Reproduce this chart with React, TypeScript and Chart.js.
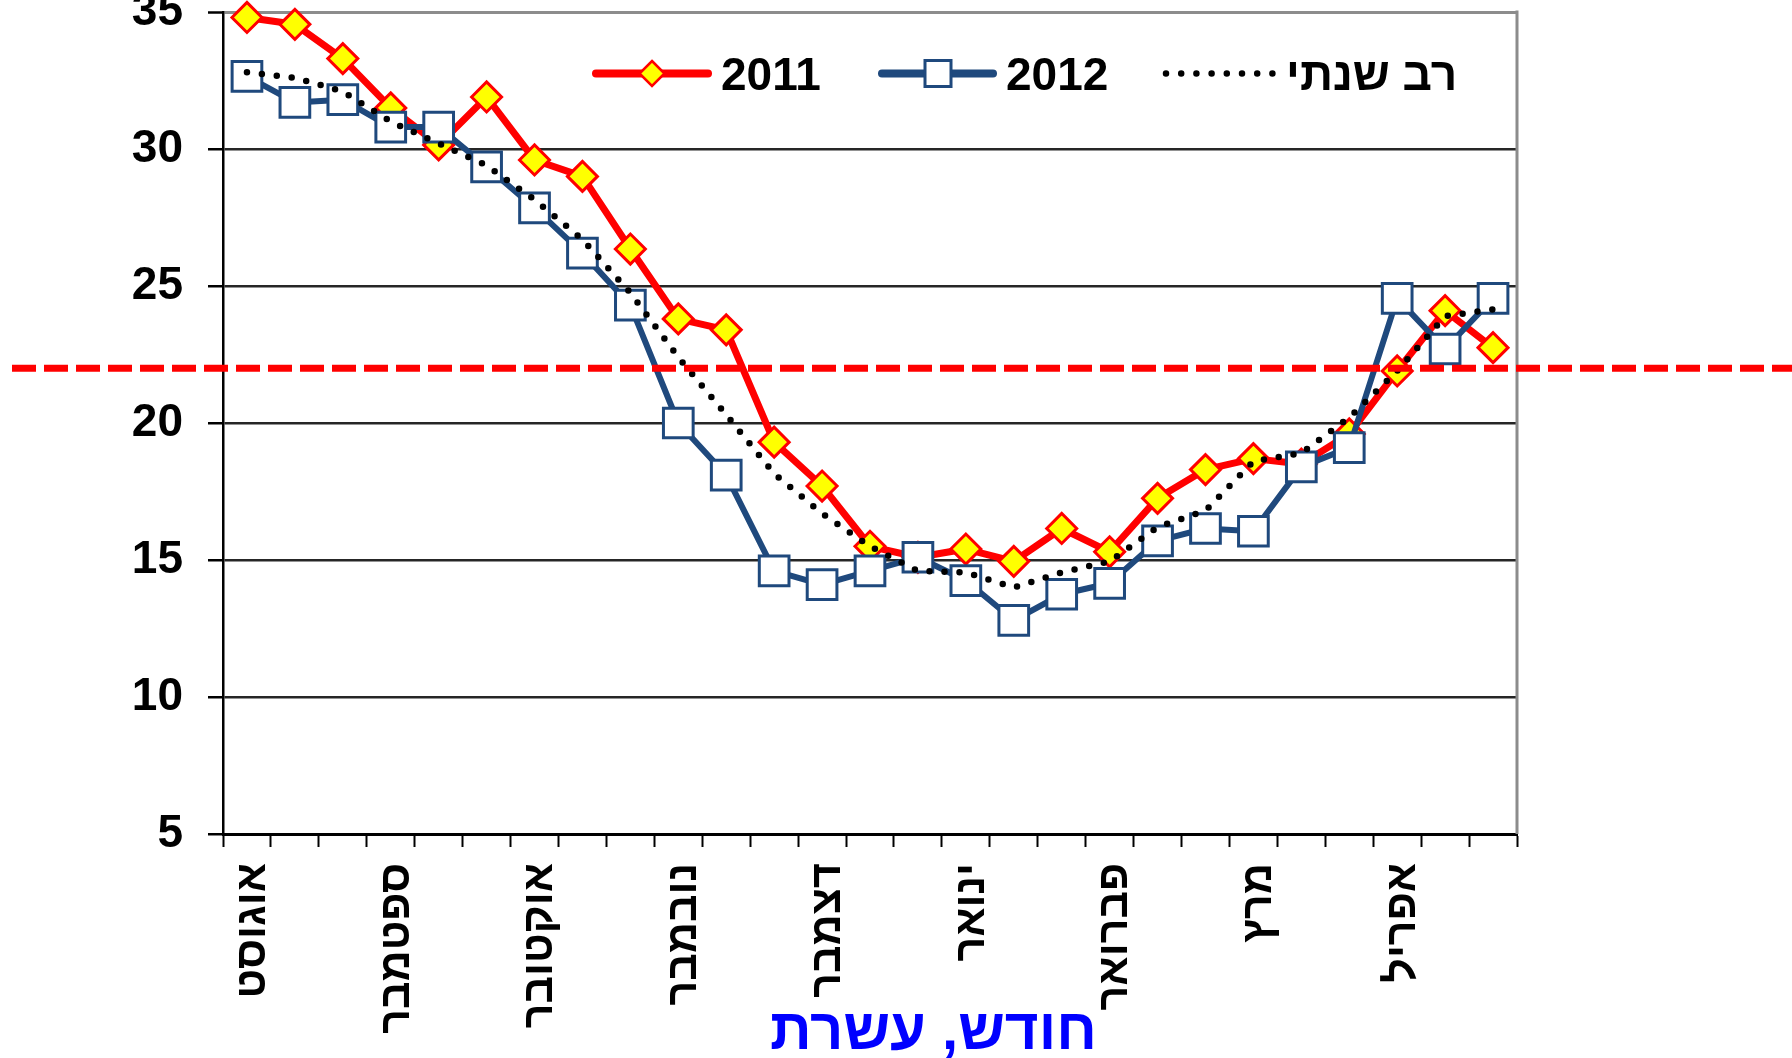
import React, { useEffect, useRef } from 'react';
import { Chart, registerables } from 'chart.js';

Chart.register(...registerables);

// ---------- data ----------
const MONTHS = ['אוגוסט', 'ספטמבר', 'אוקטובר', 'נובמבר', 'דצמבר', 'ינואר', 'פברואר', 'מרץ', 'אפריל'];
// three dekads (ten-day periods) per month; only the first one carries the month name
const CATEGORIES = MONTHS.flatMap((m) => [m, '', '']);

const SERIES_2011 = [
  34.8, 34.55, 33.3, 31.5, 30.15, 31.9, 29.6, 29.0, 26.35,
  23.8, 23.4, 19.3, 17.7, 15.5, 15.1, 15.4, 14.95, 16.15,
  15.3, 17.25, 18.3, 18.7, 18.5, 19.6, 21.9, 24.1, 22.75,
];
const SERIES_2012 = [
  32.65, 31.7, 31.8, 30.8, 30.8, 29.35, 27.85, 26.2, 24.3,
  20.0, 18.1, 14.6, 14.1, 14.6, 15.1, 14.25, 12.8, 13.75,
  14.15, 15.7, 16.15, 16.05, 18.4, 19.1, 24.55, 22.7, 24.55,
];
const LONG_TERM = [
  32.8, 32.6, 32.1, 31.0, 30.2, 29.4, 28.15, 26.7, 24.75,
  22.4, 20.3, 18.15, 16.7, 15.5, 14.6, 14.55, 14.0, 14.55,
  14.95, 16.2, 16.8, 18.6, 18.9, 20.2, 21.9, 23.9, 24.15,
];
const SERIES_NAMES = ['2011', '2012', 'רב שנתי'];

const Y_MIN = 5;
const Y_MAX = 35;
const Y_STEP = 5;
const THRESHOLD = 22;
const X_TITLE = 'חודש, עשרת';

// ---------- styles ----------
const FONT = "'Liberation Sans', Arial, sans-serif";
const RED = '#FF0000';
const YELLOW = '#FFFF00';
const BLUE = '#1F497D';
const TITLE_BLUE = '#0000FF';

function drawDiamond(ctx: CanvasRenderingContext2D, x: number, y: number, r: number, fill: string, stroke: string, lw: number) {
  ctx.beginPath();
  ctx.moveTo(x, y - r);
  ctx.lineTo(x + r, y);
  ctx.lineTo(x, y + r);
  ctx.lineTo(x - r, y);
  ctx.closePath();
  ctx.fillStyle = fill;
  ctx.fill();
  ctx.lineWidth = lw;
  ctx.strokeStyle = stroke;
  ctx.stroke();
}

function drawSquare(ctx: CanvasRenderingContext2D, x: number, y: number, h: number, fill: string, stroke: string, lw: number) {
  ctx.beginPath();
  ctx.rect(x - h, y - h, 2 * h, 2 * h);
  ctx.fillStyle = fill;
  ctx.fill();
  ctx.lineWidth = lw;
  ctx.strokeStyle = stroke;
  ctx.stroke();
}

const decorPlugin = {
  id: 'decor',
  beforeDatasetsDraw(chart: any) {
    const { ctx, chartArea } = chart;
    ctx.save();
    ctx.strokeStyle = '#8C8C8C';
    ctx.lineWidth = 3;
    ctx.beginPath();
    ctx.moveTo(chartArea.right, chartArea.top - 1.5);
    ctx.lineTo(chartArea.right, chartArea.bottom);
    ctx.stroke();
    ctx.restore();
  },
  afterDatasetsDraw(chart: any) {
    const { ctx, scales } = chart;
    const y = scales.y.getPixelForValue(THRESHOLD);
    ctx.save();
    ctx.strokeStyle = RED;
    ctx.lineWidth = 7;
    ctx.setLineDash([24, 8]);
    ctx.beginPath();
    ctx.moveTo(12, y);
    ctx.lineTo(chart.width, y);
    ctx.stroke();
    ctx.restore();
  },
  afterDraw(chart: any) {
    const { ctx, chartArea } = chart;
    ctx.save();
    // ----- legend -----
    const ly = 73.5;
    const base = 90;
    ctx.lineCap = 'round';
    // 2011
    ctx.strokeStyle = RED;
    ctx.lineWidth = 8;
    ctx.beginPath();
    ctx.moveTo(596, ly);
    ctx.lineTo(708, ly);
    ctx.stroke();
    drawDiamond(ctx, 652, ly, 12.5, YELLOW, RED, 2.5);
    // 2012
    ctx.strokeStyle = BLUE;
    ctx.lineWidth = 8;
    ctx.beginPath();
    ctx.moveTo(882, ly);
    ctx.lineTo(993, ly);
    ctx.stroke();
    drawSquare(ctx, 938, ly, 13, '#FFFFFF', BLUE, 3);
    // long-term
    ctx.strokeStyle = '#000';
    ctx.lineWidth = 6.5;
    ctx.setLineDash([0, 15.2]);
    ctx.beginPath();
    ctx.moveTo(1166, ly);
    ctx.lineTo(1273, ly);
    ctx.stroke();
    ctx.setLineDash([]);
    ctx.fillStyle = '#000';
    ctx.font = `bold 46px ${FONT}`;
    ctx.textAlign = 'left';
    ctx.textBaseline = 'alphabetic';
    ctx.fillText(SERIES_NAMES[0], 721, base);
    ctx.fillText(SERIES_NAMES[1], 1006, base);
    ctx.fillText(SERIES_NAMES[2], 1286, base);
    // ----- x title -----
    ctx.fillStyle = TITLE_BLUE;
    ctx.font = `bold 58px ${FONT}`;
    ctx.textAlign = 'center';
    const tx = chartArea.left + 0.549 * (chartArea.right - chartArea.left);
    ctx.fillText(X_TITLE, tx, 1049);
    ctx.restore();
  },
};

export default function App() {
  const ref = useRef<HTMLCanvasElement>(null);
  useEffect(() => {
    if (!ref.current) return;
    const chart = new Chart(ref.current, {
      type: 'line',
      data: {
        labels: CATEGORIES,
        datasets: [
          {
            label: SERIES_NAMES[0],
            data: SERIES_2011,
            borderColor: RED,
            borderWidth: 7,
            borderJoinStyle: 'round',
            pointStyle: 'rectRot',
            pointRadius: 15,
            pointBackgroundColor: YELLOW,
            pointBorderColor: RED,
            pointBorderWidth: 3,
            tension: 0,
            clip: false,
            order: 3,
          },
          {
            label: SERIES_NAMES[1],
            data: SERIES_2012,
            borderColor: BLUE,
            borderWidth: 6,
            borderJoinStyle: 'round',
            pointStyle: 'rect',
            pointRadius: 21,
            pointBackgroundColor: '#FFFFFF',
            pointBorderColor: BLUE,
            pointBorderWidth: 3,
            tension: 0,
            clip: false,
            order: 2,
          },
          {
            label: SERIES_NAMES[2],
            data: LONG_TERM,
            borderColor: '#000000',
            borderWidth: 6.5,
            borderDash: [0, 15],
            borderCapStyle: 'round',
            pointRadius: 0,
            tension: 0,
            clip: false,
            order: 1,
          },
        ],
      } as any,
      options: {
        responsive: false,
        animation: false,
        devicePixelRatio: 1,
        events: [],
        layout: { autoPadding: false, padding: { top: 12, right: 275, left: 0, bottom: 0 } },
        plugins: {
          legend: { display: false },
          tooltip: { enabled: false },
          title: { display: false },
        },
        scales: {
          x: {
            type: 'category',
            offset: true,
            grid: {
              display: true,
              drawOnChartArea: false,
              drawTicks: true,
              tickLength: 13,
              tickColor: '#000',
              tickWidth: 2,
              offset: true,
            },
            border: { display: true, color: '#000', width: 3 },
            ticks: {
              autoSkip: false,
              minRotation: 90,
              maxRotation: 90,
              padding: 16,
              labelOffset: 6,
              color: '#000',
              font: { family: FONT, size: 43, weight: 'bold' },
            },
            afterFit: (s: any) => {
              s.height = 224;
              s.paddingLeft = 0;
              s.paddingRight = 0;
            },
          },
          y: {
            min: Y_MIN,
            max: Y_MAX,
            ticks: {
              stepSize: Y_STEP,
              padding: 25,
              color: '#000',
              font: { family: FONT, size: 46, weight: 'bold' },
            },
            grid: {
              color: (c: any) => (c.tick && c.tick.value === Y_MAX ? '#8C8C8C' : '#262626'),
              lineWidth: (c: any) => (c.tick && c.tick.value === Y_MAX ? 3 : 2.5),
              tickColor: '#000',
              tickLength: 15,
              tickWidth: 2.5,
            },
            border: { display: true, color: '#000', width: 2.5 },
            afterFit: (s: any) => {
              s.width = 223;
              s.paddingTop = 0;
              s.paddingBottom = 0;
            },
          },
        },
      } as any,
      plugins: [decorPlugin],
    });
    return () => chart.destroy();
  }, []);
  return (
    <div style={{ position: 'absolute', left: 0, top: 0, width: 1792, height: 1058, background: '#fff', overflow: 'hidden' }}>
      <canvas ref={ref} width={1792} height={1058} style={{ display: 'block', width: 1792, height: 1058 }} />
    </div>
  );
}
